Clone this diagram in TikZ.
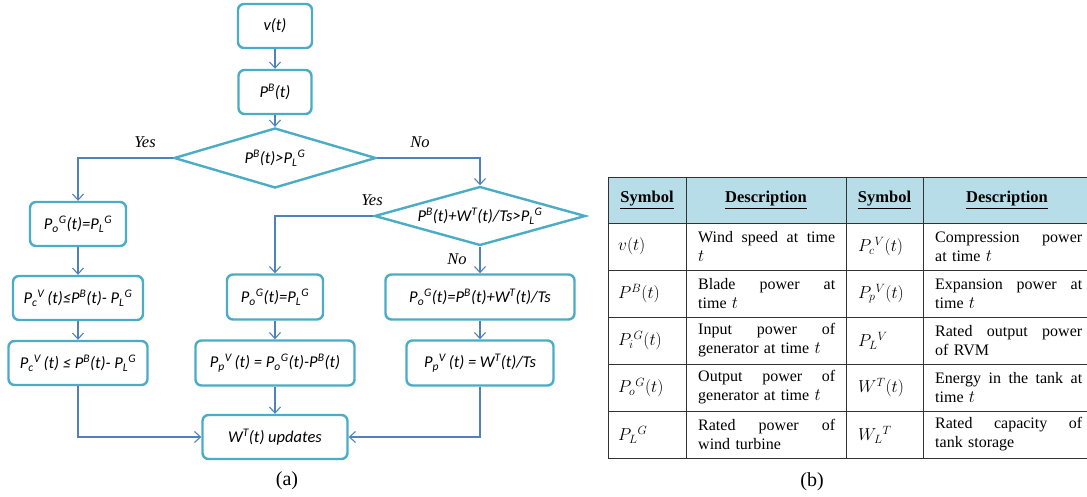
\documentclass[tikz,border=0pt]{standalone}
\usepackage{fontspec}
\setmainfont{Liberation Serif}
\newfontfamily\flowfont{Carlito}
\usetikzlibrary{shapes.geometric,arrows.meta}
\definecolor{boxc}{RGB}{75,172,198}
\definecolor{linec}{RGB}{79,129,189}
\definecolor{headc}{RGB}{183,221,232}
\definecolor{tabc}{RGB}{50,50,50}
\newcommand{\su}[1]{\textsuperscript{#1}}
\newcommand{\sd}[1]{\textsubscript{#1}}
\newcommand{\jla}[1]{\hbox to 137pt{#1}}
\newcommand{\jlb}[1]{\hbox to 147pt{#1}}
\begin{document}
\begin{tikzpicture}[x=1pt,y=-1pt,
  fbox/.style={draw=boxc,line width=2.4pt,rounded corners=6pt,inner sep=0pt,fill=white,
    font=\flowfont\itshape\fontsize{16.5}{19}\selectfont},
  fdia/.style={draw=boxc,line width=2.4pt,diamond,shape aspect=3.6,inner sep=0pt,fill=white,
    font=\flowfont\itshape\fontsize{16.5}{19}\selectfont},
  conn/.style={draw=linec,line width=1.1pt,-{Straight Barb[length=6pt,width=11pt]}},
  lab/.style={font=\itshape\fontsize{16.5}{19}\selectfont,inner sep=0pt},
  tline/.style={draw=tabc,line width=0.9pt},
  thead/.style={font=\bfseries\fontsize{16.5}{19}\selectfont,inner sep=0pt},
  tsym/.style={font=\fontsize{16.5}{19}\selectfont,inner sep=0pt,anchor=west},
  tdesc/.style={font=\fontsize{16}{19}\selectfont,inner sep=0pt,anchor=west,align=left},
  capt/.style={font=\fontsize{20}{24}\selectfont,inner sep=0pt}
]
\useasboundingbox (0,0) rectangle (1087,497);

% ---------- flowchart ----------
\node[fbox,minimum width=74pt,minimum height=44pt] (v) at (275,26) {v(t)};
\node[fbox,minimum width=73pt,minimum height=44pt] (pb) at (275,92) {P\su{B}(t)};
\node[fdia,minimum width=202pt,minimum height=60pt] (d1) at (275,158) {P\su{B}(t)>P\sd{L}\su{G}};
\node[fdia,minimum width=211pt,minimum height=59pt] (d2) at (480,216) {P\su{B}(t)+W\su{T}(t)/Ts>P\sd{L}\su{G}};

\node[fbox,minimum width=96pt,minimum height=44pt] (pog1) at (78,224) {P\sd{o}\su{G}(t)=P\sd{L}\su{G}};
\node[fbox,minimum width=130pt,minimum height=44pt] (pc1) at (78,298) {P\sd{c}\su{V}\,(t)≤P\su{B}(t)- P\sd{L}\su{G}};
\node[fbox,minimum width=139pt,minimum height=44pt] (pc2) at (78,363) {P\sd{c}\su{V}\,(t) ≤ P\su{B}(t)- P\sd{L}\su{G}};

\node[fbox,minimum width=96pt,minimum height=45pt] (pog2) at (275,297) {P\sd{o}\su{G}(t)=P\sd{L}\su{G}};
\node[fbox,minimum width=159pt,minimum height=45pt] (pp2) at (275,363) {P\sd{p}\su{V}\,(t) = P\sd{o}\su{G}(t)-P\su{B}(t)};
\node[fbox,minimum width=145pt,minimum height=44pt] (w) at (275,437) {W\su{T}(t) updates};

\node[fbox,minimum width=189pt,minimum height=45pt] (pog3) at (480,297) {P\sd{o}\su{G}(t)=P\su{B}(t)+W\su{T}(t)/Ts};
\node[fbox,minimum width=147pt,minimum height=45pt] (pp3) at (480,363) {P\sd{p}\su{V}\,(t) = W\su{T}(t)/Ts};

\draw[conn] (v) -- (pb);
\draw[conn] (pb) -- (d1);
\draw[conn] (d1.west) -| (pog1.north);
\draw[conn] (d1.east) -| (d2.north);
\draw[conn] (d2.west) -| (pog2.north);
\draw[conn] (d2.south) -- (pog3.north);
\draw[conn] (pog1) -- (pc1);
\draw[conn] (pc1) -- (pc2);
\draw[conn] (pog2) -- (pp2);
\draw[conn] (pp2) -- (w);
\draw[conn] (pog3) -- (pp3);
\draw[conn] (pc2.south) |- (w.west);
\draw[conn] (pp3.south) |- (w.east);

\node[lab] (y1) at (145,142) {Yes};
\node[lab] (n1) at (420,142) {No};
\node[lab] (y2) at (372,200) {Yes};
\node[lab] (n2) at (457,259) {No};

\node[capt] (ca) at (287,481) {(a)};
\node[capt] (cb) at (812,482) {(b)};

% ---------- table ----------
\fill[headc] (608,177) rectangle (1087,223);
\foreach \yy in {177,223,270,317,364,411,458} \draw[tline] (608,\yy) -- (1087,\yy);
\foreach \xx in {608,686,846,923} \draw[tline] (\xx,177) -- (\xx,458);

\node[thead] (h1) at (647,200) {\underline{Symbol}};
\node[thead] (h2) at (766,200) {\underline{Description}};
\node[thead] (h3) at (884.5,200) {\underline{Symbol}};
\node[thead] (h4) at (1007,200) {\underline{Description}};

\node[tsym] (s11) at (618,246.5) {$v(t)$};
\node[tdesc,text width=138pt] (d11) at (698,246.5) {\jla{Wind\hfill speed\hfill at\hfill time}\\ $t$};
\node[tsym] (s12) at (858,246.5) {$P_c{}^V(t)$};
\node[tdesc,text width=148pt] (d12) at (935,246.5) {\jlb{Compression\hfill power}\\ at time $t$};

\node[tsym] (s21) at (618,293.5) {$P^B(t)$};
\node[tdesc,text width=138pt] (d21) at (698,293.5) {\jla{Blade\hfill power\hfill at}\\ time $t$};
\node[tsym] (s22) at (858,293.5) {$P_p{}^V(t)$};
\node[tdesc,text width=148pt] (d22) at (935,293.5) {\jlb{Expansion\hfill power\hfill at}\\ time $t$};

\node[tsym] (s31) at (618,340.5) {$P_i{}^G(t)$};
\node[tdesc,text width=138pt] (d31) at (698,340.5) {\jla{Input\hfill power\hfill of}\\ generator at time $t$};
\node[tsym] (s32) at (858,340.5) {$P_L{}^V$};
\node[tdesc,text width=148pt] (d32) at (935,340.5) {\jlb{Rated\hfill output\hfill power}\\ of RVM};

\node[tsym] (s41) at (618,387.5) {$P_o{}^G(t)$};
\node[tdesc,text width=138pt] (d41) at (698,387.5) {\jla{Output\hfill power\hfill of}\\ generator at time $t$};
\node[tsym] (s42) at (858,387.5) {$W^T(t)$};
\node[tdesc,text width=148pt] (d42) at (935,387.5) {\jlb{Energy\hfill in\hfill the\hfill tank\hfill at}\\ time $t$};

\node[tsym] (s51) at (618,434.5) {$P_L{}^G$};
\node[tdesc,text width=138pt] (d51) at (698,434.5) {\jla{Rated\hfill power\hfill of}\\ wind turbine};
\node[tsym] (s52) at (858,434.5) {$W_L{}^T$};
\node[tdesc,text width=148pt] (d52) at (935,434.5) {\jlb{Rated\hfill capacity\hfill of}\\ tank storage};
\end{tikzpicture}
\end{document}
